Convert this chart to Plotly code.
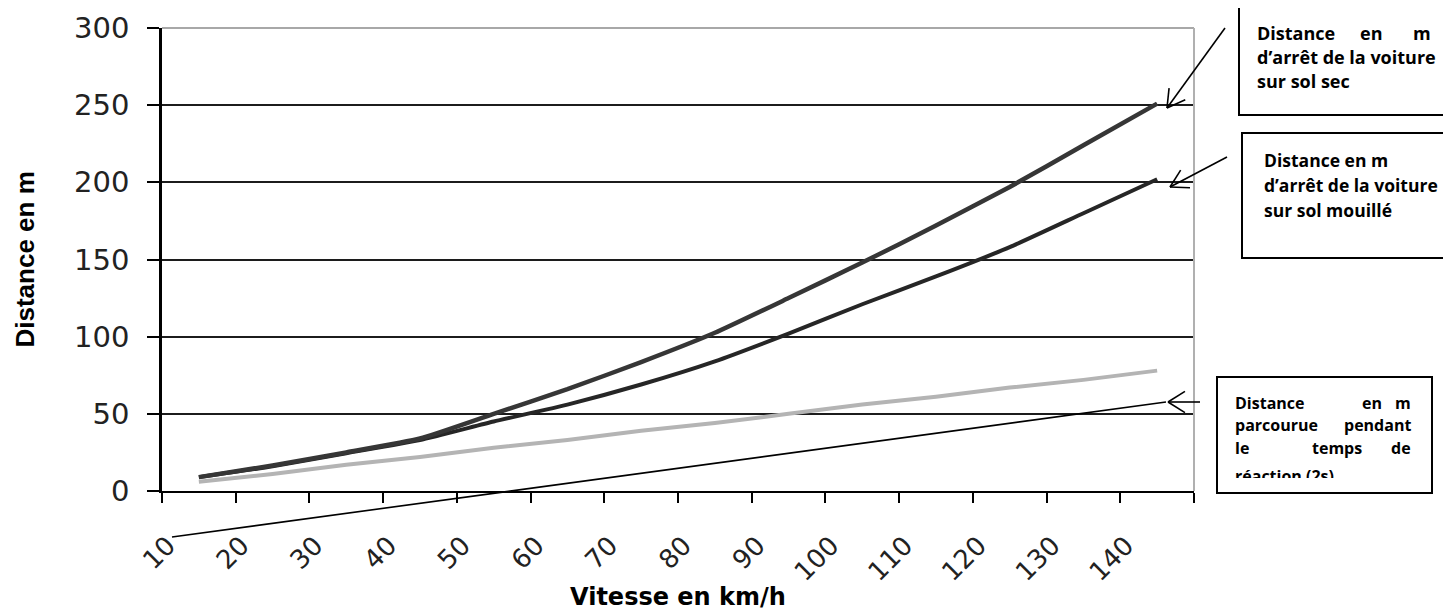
import plotly.graph_objects as go
import math

# ---- data ----
speeds = [10, 20, 30, 40, 50, 60, 70, 80, 90, 100, 110, 120, 130, 140]
speed_labels = [str(v) for v in speeds]
arret_sec = [9, 16.5, 25, 34, 50, 66, 83.5, 102.5, 125, 148, 172, 197, 224, 251]
arret_mouille = [9, 16, 24.5, 33, 45, 56, 69, 84, 102, 121, 139, 158, 180, 202]
reaction = [6, 11, 17, 22, 28, 33, 39, 44, 50, 56, 61, 67, 72, 78]

y_ticks = [0, 50, 100, 150, 200, 250, 300]

# ---- layout geometry (pixels of the page; the page body has an 8px margin) ----
OFF = 8
PAGE_W, PAGE_H = 1451, 613
W, H = PAGE_W - OFF, PAGE_H - OFF
L, R, T, B = 162, 1194, 28, 491


def px(x):
    return (x - L) / (R - L)


def py(y):
    return (B - y) / (B - T)


fig = go.Figure()
fig.add_trace(go.Scatter(x=speed_labels, y=reaction, mode="lines",
                         line=dict(color="#b4b4b4", width=4), showlegend=False))
fig.add_trace(go.Scatter(x=speed_labels, y=arret_mouille, mode="lines",
                         line=dict(color="#262626", width=4, shape="spline", smoothing=0.5),
                         showlegend=False))
fig.add_trace(go.Scatter(x=speed_labels, y=arret_sec, mode="lines",
                         line=dict(color="#363636", width=4.5, shape="spline", smoothing=0.5),
                         showlegend=False))

shapes = []


def seg(x0, y0, x1, y1, color="black", width=1.6, layer="above"):
    shapes.append(dict(type="line", xref="paper", yref="paper",
                       x0=px(x0), y0=py(y0), x1=px(x1), y1=py(y1),
                       line=dict(color=color, width=width), layer=layer))


def arrow(tail, tip, head=20, ang=30):
    seg(tail[0], tail[1], tip[0], tip[1])
    dx, dy = tail[0] - tip[0], tail[1] - tip[1]
    a = math.atan2(dy, dx)
    for s in (-1, 1):
        b = a + s * math.radians(ang)
        seg(tip[0], tip[1], tip[0] + head * math.cos(b), tip[1] + head * math.sin(b))


# plot frame (top / right in grey)
seg(L, T, R, T, color="#a8a8a8", width=2)
seg(R, T, R, B, color="#b0b0b0", width=2)


def box(x0, y0, x1, y1):
    shapes.append(dict(type="rect", xref="paper", yref="paper",
                       x0=px(x0), y0=py(y1), x1=px(x1), y1=py(y0),
                       line=dict(color="black", width=2), fillcolor="white", layer="above"))


box(1239, 6, 1450, 115)
box(1242, 133, 1450, 258)
box(1217, 377, 1432, 493)

arrow((1225, 28), (1167, 108))
arrow((1227, 157), (1170, 187))
arrow((1200, 402), (1168, 402), head=20, ang=32)
seg(172, 537, 1166, 402)

annotations = []


def txt(s, x, y, anchor="left", size=18):
    annotations.append(dict(text="<b>%s</b>" % s, xref="paper", yref="paper",
                            x=px(x), y=py(y), xanchor=anchor, yanchor="middle",
                            showarrow=False,
                            font=dict(family="Open Sans", size=size, color="black")))


# box 1
txt("Distance", 1255, 33)
txt("en", 1371, 33, "center")
txt("m", 1433, 33, "right")
txt("d\u2019arr\u00eat de la voiture", 1255, 57)
txt("sur sol sec", 1255, 81)
# box 2
txt("Distance en m", 1262, 160, size=17.5)
txt("d\u2019arr\u00eat de la voiture", 1262, 185, size=17.5)
txt("sur sol mouill\u00e9", 1262, 210, size=17.5)
# box 3
txt("Distance", 1233, 403, size=16)
txt("en", 1372, 403, "center", size=16)
txt("m", 1413, 403, "right", size=16)
txt("parcourue", 1233, 425, size=16)
txt("pendant", 1413, 425, "right", size=16)
txt("le", 1233, 448, size=16)
txt("temps", 1337, 448, "center", size=16)
txt("de", 1413, 448, "right", size=16)
txt("r\u00e9action (2s)", 1233, 476, size=16)
# white cover clipping the last line of box 3
annotations.append(dict(text=" ", xref="paper", yref="paper", x=px(1219), y=py(478),
                        xanchor="left", yanchor="top", width=211, height=13,
                        bgcolor="white", borderpad=0, borderwidth=0, showarrow=False))

# axis titles
annotations.append(dict(text="<b>Distance en m</b>", xref="paper", yref="paper",
                        x=px(24), y=0.5, xanchor="center", yanchor="middle", textangle=-90,
                        showarrow=False,
                        font=dict(family="Liberation Sans, Arial", size=26, color="black")))
annotations.append(dict(text="<b>Vitesse en km/h</b>", xref="paper", yref="paper",
                        x=0.5, y=py(597), xanchor="center", yanchor="middle",
                        showarrow=False,
                        font=dict(family="DejaVu Sans", size=24, color="black")))

fig.update_layout(
    width=W, height=H,
    margin=dict(l=L - OFF, r=W - (R - OFF), t=T - OFF, b=H - (B - OFF), autoexpand=False),
    paper_bgcolor="white", plot_bgcolor="white",
    shapes=shapes, annotations=annotations,
    xaxis=dict(type="category", categoryorder="array", categoryarray=speed_labels,
               range=[-0.5, len(speeds) - 0.5],
               tickson="boundaries", ticks="outside", ticklen=10, tickwidth=2, tickcolor="black",
               showgrid=False, showline=True, linecolor="black", linewidth=2,
               tickangle=-45, tickfont=dict(family="DejaVu Sans", size=26, color="#222"),
               ticklabelstandoff=27, ticklabelshift=-31, zeroline=False),
    yaxis=dict(range=[0, 300], tickvals=y_ticks, ticks="outside", ticklen=12, tickwidth=2,
               tickcolor="black", showgrid=True, gridcolor="#1c1c1c", gridwidth=2,
               showline=True, linecolor="black", linewidth=2.5, zeroline=False,
               tickfont=dict(family="DejaVu Sans", size=29, color="#222"),
               ticklabelstandoff=12),
)

fig.write_html("out.html")
